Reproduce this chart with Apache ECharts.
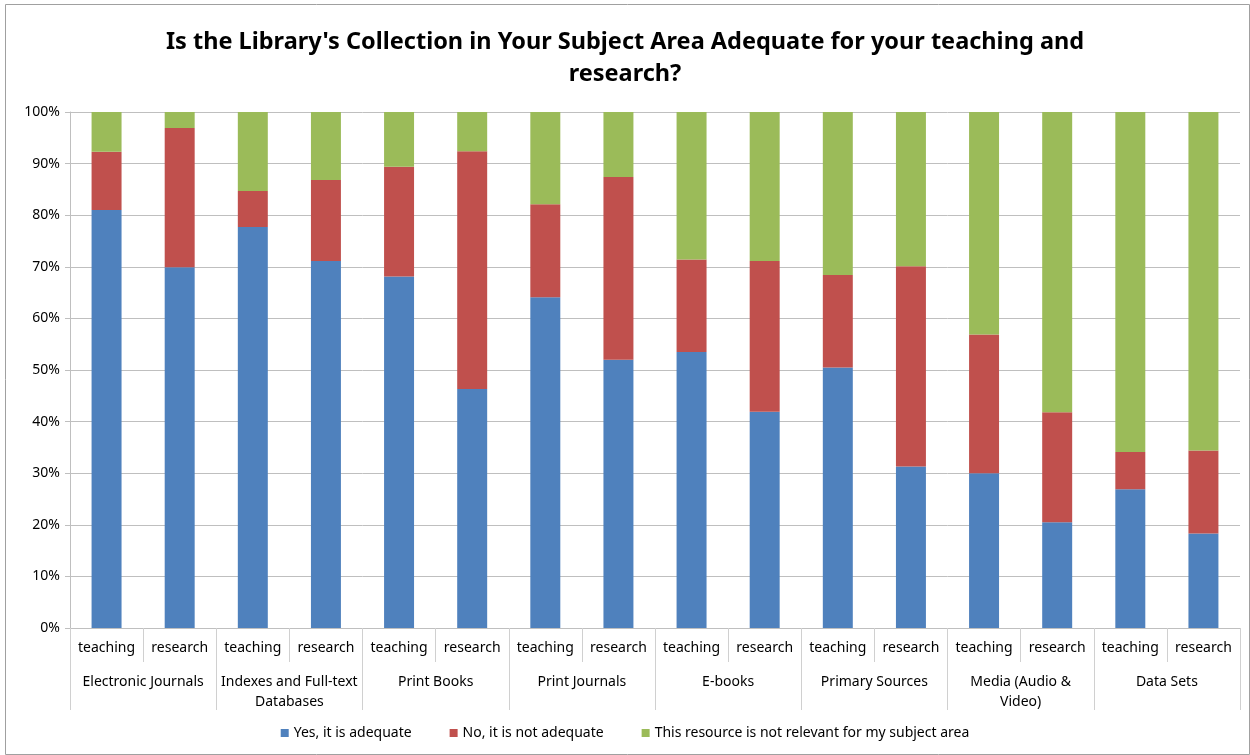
<!DOCTYPE html>
<html>
<head>
<meta charset="utf-8">
<script src="https://cdn.jsdelivr.net/npm/echarts@6/dist/echarts.min.js"></script>
<style>
  html, body { margin: 0; padding: 0; background: #fff; }
  #chart { width: 1250px; height: 755px; }
</style>
</head>
<body>
<div id="chart"></div>
<script>
// resources (group labels) and the two uses under each
const groups = ['Electronic Journals', 'Indexes and Full-text\nDatabases', 'Print Books', 'Print Journals',
  'E-books', 'Primary Sources', 'Media (Audio &\nVideo)', 'Data Sets'];
const uses = ['teaching', 'research', 'teaching', 'research', 'teaching', 'research', 'teaching', 'research',
  'teaching', 'research', 'teaching', 'research', 'teaching', 'research', 'teaching', 'research'];

// percentages
const adequate = [81.0, 69.9, 77.7, 71.1, 68.1, 46.3, 64.1, 52.0, 53.5, 41.9, 50.5, 31.3, 30.0, 20.5, 26.9, 18.3];
const notAdequate = [11.3, 27.0, 7.0, 15.7, 21.3, 46.1, 18.0, 35.4, 17.9, 29.2, 17.9, 38.8, 26.9, 21.3, 7.2, 16.1];
const notRelevant = [7.7, 3.1, 15.3, 13.2, 10.6, 7.6, 17.9, 12.6, 28.6, 28.9, 31.6, 29.9, 43.1, 58.2, 65.9, 65.6];

const yTicks = [0, 10, 20, 30, 40, 50, 60, 70, 80, 90, 100];

const font = 'Noto Sans';
const gridColor = '#bfbfbf';

const chart = echarts.init(document.getElementById('chart'));

const option = {
  backgroundColor: '#fff',
  textStyle: { fontFamily: font },
  title: {
    text: "Is the Library's Collection in Your Subject Area Adequate for your teaching and\nresearch?",
    left: 'center',
    top: 21,
    textStyle: { fontFamily: font, fontSize: 23.5, fontWeight: 'bold', color: '#000', lineHeight: 32 }
  },
  legend: {
    bottom: 10,
    left: 'center',
    itemWidth: 8,
    itemHeight: 8,
    itemGap: 38,
    icon: 'rect',
    textStyle: { fontFamily: font, fontSize: 14, color: '#000' },
    data: ['Yes, it is adequate', 'No, it is not adequate', 'This resource is not relevant for my subject area']
  },
  grid: { left: 70, right: 10, top: 112, bottom: 127 },
  xAxis: [
    {
      type: 'category',
      data: uses,
      axisLine: { show: true, lineStyle: { color: gridColor } },
      axisTick: { show: true, length: 34, lineStyle: { color: '#d0d0d0' } },
      axisLabel: { interval: 0, margin: 13, fontSize: 14, color: '#000', fontFamily: font }
    },
    {
      type: 'category',
      position: 'bottom',
      data: groups,
      axisLine: { show: false },
      axisTick: { show: true, length: 82, lineStyle: { color: '#d0d0d0' } },
      axisLabel: { interval: 0, margin: 44, fontSize: 14, color: '#000', lineHeight: 20, fontFamily: font }
    }
  ],
  yAxis: {
    type: 'value',
    min: yTicks[0],
    max: yTicks[yTicks.length - 1],
    interval: 10,
    axisLine: { show: true, lineStyle: { color: gridColor } },
    axisTick: { show: true, length: 5, lineStyle: { color: gridColor } },
    axisLabel: { formatter: '{value}%', fontSize: 14, color: '#000', margin: 10, fontFamily: font },
    splitLine: { lineStyle: { color: gridColor } }
  },
  series: [
    { name: 'Yes, it is adequate', type: 'bar', stack: 'all', barWidth: '41%', data: adequate,
      itemStyle: { color: '#4F81BD' } },
    { name: 'No, it is not adequate', type: 'bar', stack: 'all', data: notAdequate,
      itemStyle: { color: '#C0504D' } },
    { name: 'This resource is not relevant for my subject area', type: 'bar', stack: 'all', data: notRelevant,
      itemStyle: { color: '#9BBB59' } }
  ],
  graphic: [
    { type: 'rect', left: 3, top: 2, shape: { width: 1244, height: 750 }, silent: true,
      style: { fill: 'none', stroke: '#a0a0a0', lineWidth: 1 } }
  ]
};

chart.setOption(option);
</script>
</body>
</html>
